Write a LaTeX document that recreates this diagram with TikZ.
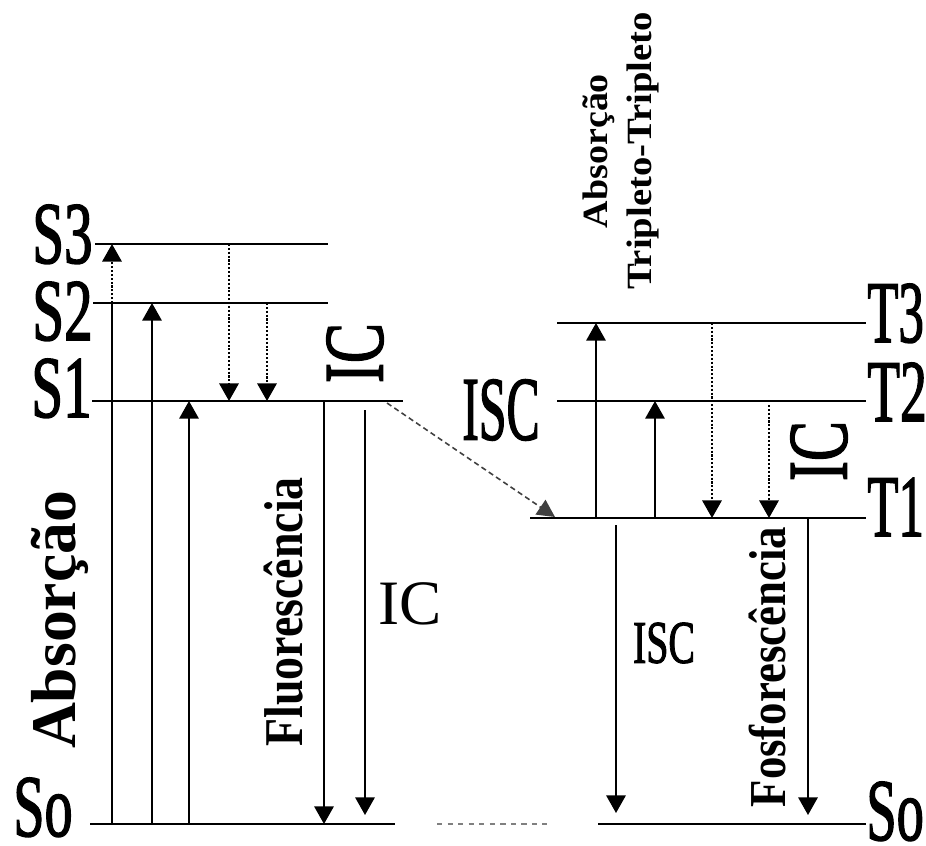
\documentclass[tikz,border=0pt]{standalone}
\usepackage{fontspec}
\setmainfont{Liberation Serif}
\newfontfamily\heavy{Liberation Serif}[FakeBold=2]
\usetikzlibrary{arrows.meta}

\newcommand{\narrow}[2]{\scalebox{#1}[1]{#2}}

\begin{document}
\begin{tikzpicture}[x=0.02cm,y=-0.02cm,
    level/.style={line width=1.5pt},
    up/.style={line width=1.1pt,-{Triangle[width=11pt,length=10pt]}},
    drop/.style={line width=1.2pt,densely dotted,-{Triangle[width=11pt,length=10pt]}},
    isc/.style={line width=0.9pt,black!75,densely dashed,-{Triangle[width=10pt,length=10pt]}},
    lvl/.style={inner sep=0pt,text height=1.17cm,text depth=0pt,font=\heavy\fontsize{50}{50}\selectfont},
    tag/.style={inner sep=0pt,rotate=90,anchor=base}]
    \useasboundingbox (0,0) rectangle (926,845);

    % Draw the singlet and triplet levels
    \coordinate (S3a) at (95,244);  \coordinate (S3b) at (328,244);
    \coordinate (S2a) at (93,303);  \coordinate (S2b) at (328,303);
    \coordinate (S1a) at (92,401);  \coordinate (S1b) at (403,401);
    \coordinate (S0a) at (90,824);  \coordinate (S0b) at (395,824);
    \coordinate (M0a) at (437,824); \coordinate (M0b) at (547,824);
    \coordinate (T3a) at (557,323); \coordinate (T3b) at (866,323);
    \coordinate (T2a) at (557,401); \coordinate (T2b) at (866,401);
    \coordinate (T1a) at (530,518); \coordinate (T1b) at (866,518);
    \coordinate (R0a) at (598,824); \coordinate (R0b) at (866,824);
    \foreach \l in {S3,S2,S1,S0,T3,T2,T1,R0}
        \draw[level] (\l a) -- (\l b);
    \draw[line width=1pt,gray,dashed] (M0a) -- (M0b);

    \node[lvl,anchor=base east] (lS3) at (93,263) {\narrow{0.65}{S3}};
    \node[lvl,anchor=base east] (lS2) at (93,340) {\narrow{0.65}{S2}};
    \node[lvl,anchor=base east] (lS1) at (92,417) {\narrow{0.65}{S1}};
    \node[lvl,anchor=base east] (lS0) at (73,836) {\narrow{0.64}{So}};
    \node[lvl,anchor=base west] (lT3) at (867,342) {\narrow{0.58}{T3}};
    \node[lvl,anchor=base west] (lT2) at (867,421) {\narrow{0.61}{T2}};
    \node[lvl,anchor=base west] (lT1) at (867,536) {\narrow{0.58}{T1}};
    \node[lvl,anchor=base west] (lR0) at (866,840) {\narrow{0.62}{So}};

    % transitions
    \coordinate (absS3) at (112,0); \coordinate (absS2) at (152,0);
    \coordinate (absS1) at (189,0); \coordinate (icS3) at (229,0);
    \coordinate (icS2) at (267,0);  \coordinate (fluo) at (324,0);
    \coordinate (icS0) at (365,0);  \coordinate (absT3) at (596,0);
    \coordinate (iscT) at (616,0);  \coordinate (absT2) at (655,0);
    \coordinate (icT3) at (712,0);  \coordinate (icT2) at (769,0);
    \coordinate (phos) at (808,0);
    \coordinate (iscA) at (387,403); \coordinate (iscB) at (555,517);

    \draw[line width=1.1pt] (absS3 |- S0a) -- (absS3 |- S2a);
    \draw[drop] (absS3 |- S2a) -- (absS3 |- S3a);
    \draw[up] (absS2 |- S0a) -- (absS2 |- S2a);
    \draw[up] (absS1 |- S0a) -- (absS1 |- S1a);
    \draw[drop] (icS3 |- S3a) -- (icS3 |- S1a);
    \draw[drop] (icS2 |- S2a) -- (icS2 |- S1a);
    \draw[up] (fluo |- S1a) -- (fluo |- S0a);
    \draw[up,shorten <=0.18cm,shorten >=0.18cm] (icS0 |- S1a) -- (icS0 |- S0a);
    \draw[isc] (iscA) -- (iscB);
    \draw[up] (absT3 |- T1a) -- (absT3 |- T3a);
    \draw[up] (absT2 |- T1a) -- (absT2 |- T2a);
    \draw[drop] (icT3 |- T3a) -- (icT3 |- T1a);
    \draw[drop,shorten <=0.08cm] (icT2 |- T2a) -- (icT2 |- T1a);
    \draw[up,shorten <=0.14cm,shorten >=0.22cm] (iscT |- T1a) -- (iscT |- R0a);
    \draw[up,shorten >=0.18cm] (phos |- T1a) -- (phos |- R0a);

    % labels
    \node[inner sep=0pt,rotate=90,font=\heavy\fontsize{48}{48}\selectfont] (icA) at (355,353) {\narrow{0.71}{IC}};
    \node[inner sep=0pt,rotate=90,font=\heavy\fontsize{48}{48}\selectfont] (icB) at (819,451) {\narrow{0.71}{IC}};
    \node[inner sep=0pt,font=\fontsize{36}{36}\selectfont] (icC) at (410,604) {IC};
    \node[inner sep=0pt,font=\heavy\fontsize{51.5}{51.5}\selectfont] (iscL) at (501,410) {\narrow{0.55}{ISC}};
    \node[inner sep=0pt,font=\heavy\fontsize{34.4}{34.4}\selectfont] (iscR) at (664,643) {\narrow{0.66}{ISC}};
    \node[tag,font=\fontsize{36.2}{36.2}\selectfont\bfseries] (absS) at (75,620) {Absorção};
    \node[tag,font=\fontsize{31.1}{31.1}\selectfont\bfseries] (fluoT) at (302,612) {\narrow{0.84}{Fluorescência}};
    \node[tag,font=\fontsize{29.5}{29.5}\selectfont\bfseries] (phosT) at (785,667) {\narrow{0.865}{Fosforescência}};
    \node[inner sep=0pt,rotate=90,align=center,font=\fontsize{20.2}{25}\selectfont\bfseries] (absTT) at (621,151)
        {\narrow{1.07}{Absorção}\\\narrow{1.09}{Tripleto-Tripleto}};
\end{tikzpicture}
\end{document}
